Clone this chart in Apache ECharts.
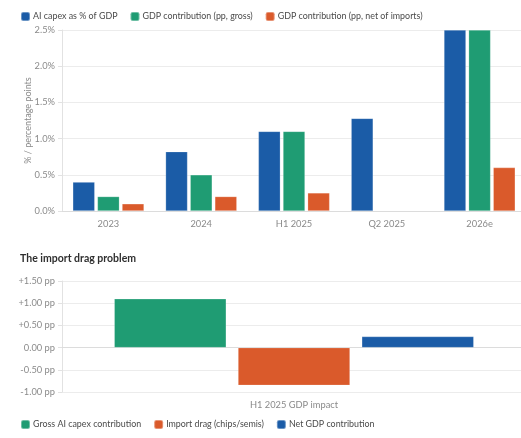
<!DOCTYPE html>
<html>
<head>
<meta charset="utf-8">
<script src="https://cdn.jsdelivr.net/npm/echarts@6/dist/echarts.min.js"></script>
<style>
  html, body { margin: 0; padding: 0; background: #ffffff; overflow: hidden; }
  #chart { width: 526px; height: 438px; }
</style>
</head>
<body>
<div id="chart"></div>
<script>
// Upper panel: AI capex vs. GDP contribution by period
const periods = ['2023', '2024', 'H1 2025', 'Q2 2025', '2026e'];
const capexShare = [0.40, 0.82, 1.10, 1.28, 2.50];
const grossContribution = [0.20, 0.50, 1.10, null, 2.50];
const netContribution = [0.10, 0.20, 0.25, null, 0.60];

// Lower panel: the import drag in H1 2025
const impactCategory = ['H1 2025 GDP impact'];
const grossImpact = [1.10];
const importDrag = [-0.85];
const netImpact = [0.25];

const BLUE = '#1B5CA7';
const GREEN = '#1F9C73';
const ORANGE = '#DA5A2B';
const FONT = 'Lato, "Open Sans", sans-serif';
const GRID_LINE = '#ececec';
const LABEL = '#8a8a8a';

// the canvas runs a few pixels past the window so the last category sits flush right
const chart = echarts.init(document.getElementById('chart'), null, { renderer: 'canvas' });

function valueAxis(gridIndex, min, max, fmt, name) {
  return {
    type: 'value', gridIndex, min, max, interval: 0.5,
    name: name || '',
    nameLocation: 'middle', nameGap: 29, nameRotate: 90, nameMoveOverlap: false,
    nameTextStyle: { color: LABEL, fontSize: 9, fontFamily: FONT },
    axisLine: { show: true, lineStyle: { color: '#e2e2e2' } },
    axisTick: { show: true, length: 4, lineStyle: { color: '#e2e2e2' } },
    splitLine: { lineStyle: { color: GRID_LINE } },
    axisLabel: { color: LABEL, fontSize: 9.3, fontFamily: FONT, margin: 7, formatter: fmt }
  };
}

function catAxis(gridIndex, data) {
  return {
    type: 'category', gridIndex, data,
    axisLine: { lineStyle: { color: '#dcdcdc' } },
    axisTick: { show: false },
    axisLabel: { color: LABEL, fontSize: 9.3, fontFamily: FONT, margin: 8 }
  };
}

function bars(name, data, color, xi, width, gap) {
  return {
    name, type: 'bar', data, xAxisIndex: xi, yAxisIndex: xi,
    barWidth: width, barGap: gap,
    itemStyle: { color, borderColor: 'rgba(255,255,255,0.35)', borderWidth: 0.6 },
    emphasis: { disabled: true }
  };
}

const legendText = { color: '#4a4a4a', fontSize: 8.9, fontFamily: FONT, padding: [0, 0, 0, -2] };

chart.setOption({
  backgroundColor: '#ffffff',
  animation: false,
  title: {
    text: 'The import drag problem',
    left: 15, top: 248,
    textStyle: { fontSize: 10.5, fontWeight: 'bold', color: '#2f2f2f', fontFamily: FONT }
  },
  legend: [
    {
      data: ['AI capex as % of GDP', 'GDP contribution (pp, gross)', 'GDP contribution (pp, net of imports)'],
      left: 15, top: 6, icon: 'roundRect', itemWidth: 9, itemHeight: 9, itemGap: 12,
      textStyle: legendText, selectedMode: false
    },
    {
      data: ['Gross AI capex contribution', 'Import drag (chips/semis)', 'Net GDP contribution'],
      left: 15, top: 414, icon: 'roundRect', itemWidth: 9, itemHeight: 9, itemGap: 12,
      textStyle: legendText, selectedMode: false
    }
  ],
  grid: [
    { left: 62, right: 0, top: 30, height: 181 },
    { left: 62, right: 0, top: 281, height: 111 }
  ],
  xAxis: [catAxis(0, periods), catAxis(1, impactCategory)],
  yAxis: [
    valueAxis(0, 0, 2.5, v => v.toFixed(1) + '%', '% / percentage points'),
    valueAxis(1, -1, 1.5, v => (v > 0 ? '+' : '') + v.toFixed(2) + ' pp')
  ],
  series: [
    bars('AI capex as % of GDP', capexShare, BLUE, 0, 22, '12%'),
    bars('GDP contribution (pp, gross)', grossContribution, GREEN, 0, 22, '12%'),
    bars('GDP contribution (pp, net of imports)', netContribution, ORANGE, 0, 22, '12%'),
    bars('Gross AI capex contribution', grossImpact, GREEN, 1, 112, '10.5%'),
    bars('Import drag (chips/semis)', importDrag, ORANGE, 1, 112, '10.5%'),
    bars('Net GDP contribution', netImpact, BLUE, 1, 112, '10.5%')
  ]
});
</script>
</body>
</html>
